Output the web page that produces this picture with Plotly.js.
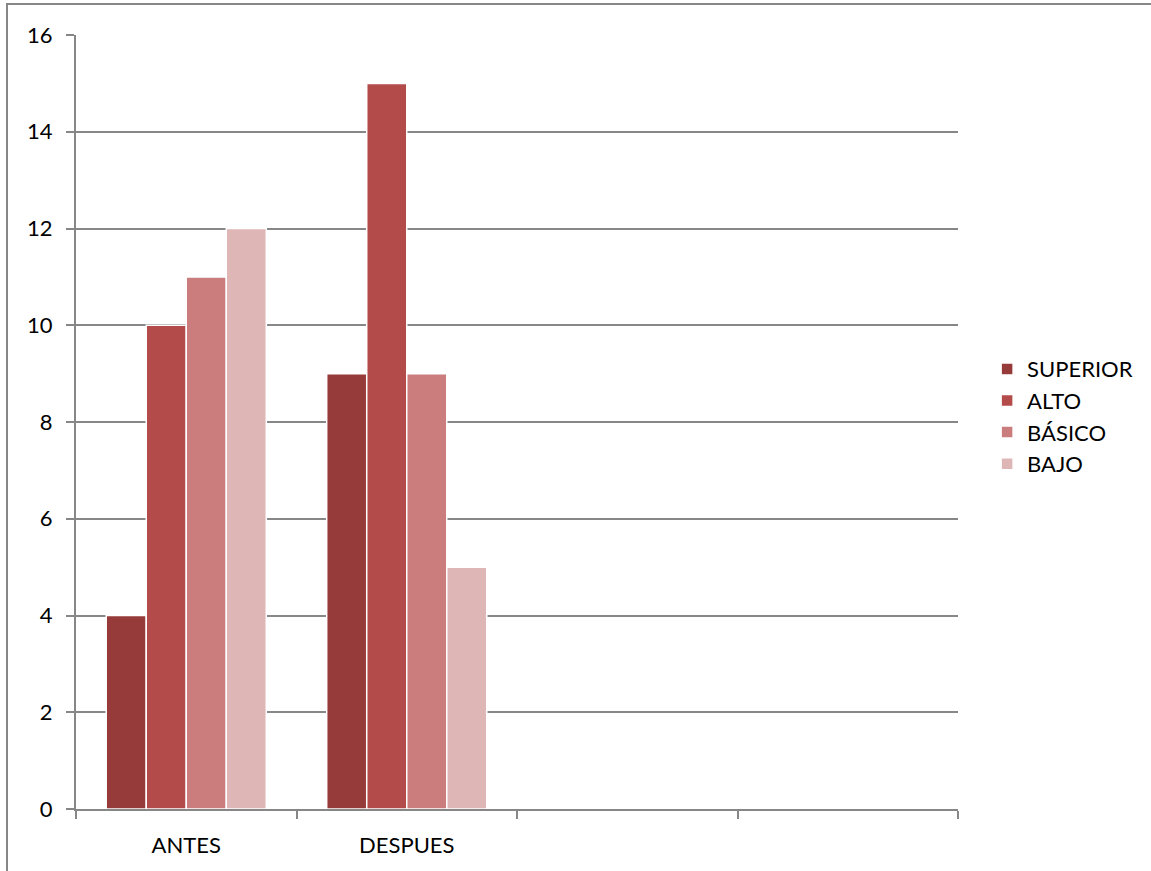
<!DOCTYPE html>
<html>
<head>
<meta charset="utf-8">
<script src="https://cdn.plot.ly/plotly-3.0.1.min.js"></script>
<style>html,body{margin:0;padding:0;background:#fff;}#chart{width:1151px;height:871px;}</style>
</head>
<body>
<div id="chart"></div>
<script>
const categories = ["ANTES", "DESPUES", " ", "  "];
const seriesNames = ["SUPERIOR", "ALTO", "BÁSICO", "BAJO"];
const superiorValues = [4, 9, null, null];
const altoValues = [10, 15, null, null];
const basicoValues = [11, 9, null, null];
const bajoValues = [12, 5, null, null];
const yTicks = [0, 2, 4, 6, 8, 10, 12, 14, 16];

const colors = ["#963A3A", "#B24B49", "#CA7D7C", "#DFB6B6"];
const allValues = [superiorValues, altoValues, basicoValues, bajoValues];

const traces = allValues.map((vals, i) => ({
  type: "bar",
  name: seriesNames[i],
  legendgroup: "g" + i,
  x: categories,
  y: vals,
  marker: {color: colors[i], line: {color: "#ffffff", width: 1.5}},
  hoverinfo: "skip"
}));

const font = {family: "Lato, 'Open Sans', sans-serif", size: 22, color: "#000"};
const axisColor = "#878787";

const layout = {
  width: 1151,
  height: 871,
  margin: {l: 76, r: 193, t: 35, b: 62},
  paper_bgcolor: "#fff",
  plot_bgcolor: "#fff",
  barmode: "group",
  bargap: 0.274,
  bargroupgap: 0,
  font: font,
  showlegend: true,
  legend: {
    x: 1.033, xanchor: "left", y: 0.507, yanchor: "middle",
    font: font,
    itemwidth: 30, tracegroupgap: 5,
    traceorder: "normal"
  },
  xaxis: {
    type: "category",
    categoryorder: "array",
    categoryarray: categories,
    tickson: "boundaries",
    ticks: "outside",
    ticklen: 8,
    tickwidth: 2,
    tickcolor: axisColor,
    showline: true,
    linecolor: axisColor,
    linewidth: 2,
    showgrid: false,
    zeroline: false,
    tickfont: font,
    ticklabelstandoff: 16,
    range: [-0.5, 3.5],
    fixedrange: true
  },
  yaxis: {
    range: [0, 16],
    tickvals: yTicks,
    ticktext: yTicks.map(String),
    ticks: "outside",
    ticklen: 8,
    tickwidth: 2,
    tickcolor: axisColor,
    showline: true,
    linecolor: axisColor,
    linewidth: 2,
    showgrid: true,
    gridcolor: axisColor,
    gridwidth: 2,
    zeroline: false,
    tickfont: font,
    ticklabelstandoff: 9,
    fixedrange: true
  },
  shapes: [{
    type: "rect", xref: "paper", yref: "paper",
    x0: (7 - 76) / 882, x1: (1170 - 76) / 882,
    y0: (809 - 890) / 774, y1: (809 - 4) / 774,
    line: {color: axisColor, width: 2}, fillcolor: "rgba(0,0,0,0)"
  }]
};

Plotly.newPlot("chart", traces, layout, {displayModeBar: false, staticPlot: true});
</script>
</body>
</html>
